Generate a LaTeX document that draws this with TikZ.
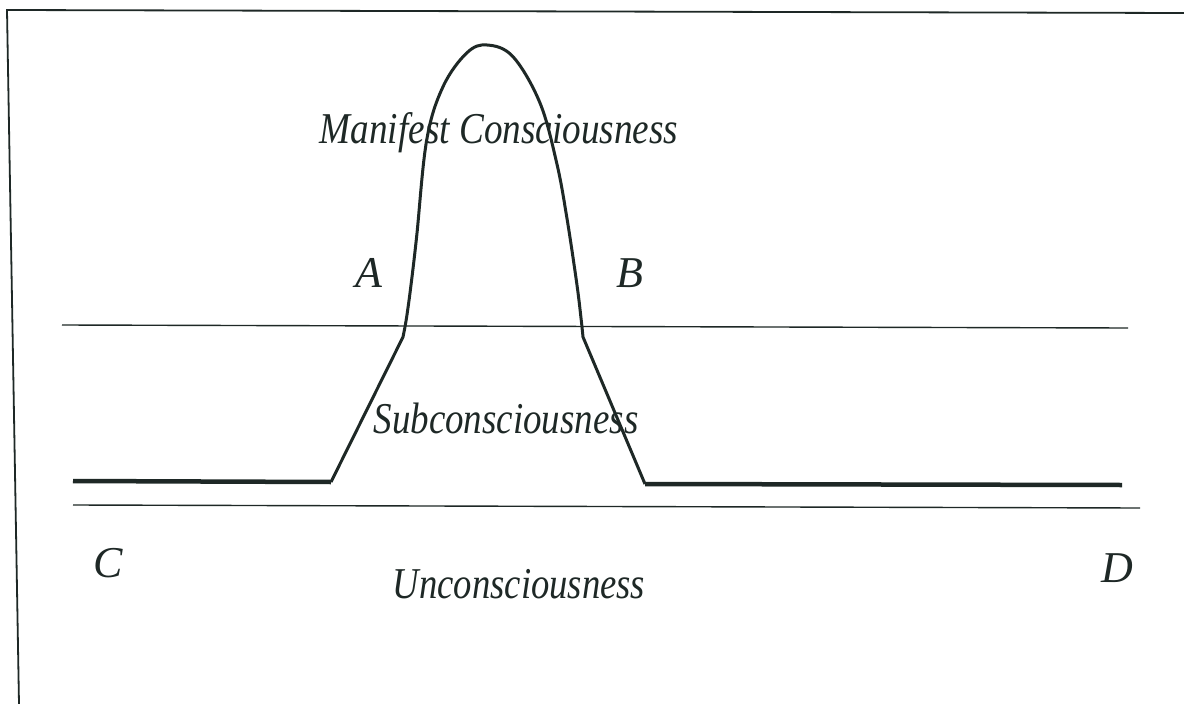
\documentclass[tikz,border=0pt]{standalone}
\usepackage{fontspec}
\setmainfont{Liberation Serif}
\definecolor{ink}{HTML}{1E2826}
\tikzset{
  frameline/.style={draw=ink, line width=1.8pt},
  thinline/.style={draw=ink, line width=1.4pt},
  levelline/.style={draw=ink, line width=4.5pt},
  curveline/.style={draw=ink, line width=3pt, line join=round},
  lbl/.style={inner sep=0pt, anchor=base, text=ink, font=\fontsize{44}{44}\selectfont\itshape},
}
\begin{document}
\begin{tikzpicture}[x=1pt,y=-1pt]
\useasboundingbox (0,0) rectangle (1184,704);
\fill[white] (0,0) rectangle (1184,704);
% frame (top and left)
\coordinate (fbl) at (19,704);
\coordinate (ftl) at (7,10);
\coordinate (ftr) at (1184,13);
\draw[frameline] (fbl) -- (ftl) -- (ftr);
% thin level lines
\coordinate (l1a) at (62,325);
\coordinate (l1b) at (1128,328);
\coordinate (l2a) at (73,505);
\coordinate (l2b) at (1140,508);
\draw[thinline] (l1a) -- (l1b);
\draw[thinline] (l2a) -- (l2b);
% thick baseline
\coordinate (c0) at (73,481);
\coordinate (c1) at (331,482);
\coordinate (c2) at (403,337);
\coordinate (c3) at (583,337);
\coordinate (c4) at (645,484);
\coordinate (c5) at (1122,485);
\draw[levelline] (c0) -- (c1);
\draw[levelline] (c4) -- (c5);
% curve
\draw[curveline] (c1) -- (c2) -- plot[smooth, tension=0.6] coordinates {
  (403,337) (406.5,318) (411,285) (416.7,236) (426.7,140) (443,86.7) (466.7,53)
  (487,45) (513,56.7) (540,103) (556.7,163) (566.7,216.7) (576.7,283) (581,318) (583,337)}
  -- (c3) -- (c4);
% labels
\node[lbl] (manifest) at (499,143) {\scalebox{0.845}[1]{Manifest Consciousness}};
\node[lbl] (A) at (369,287) {A};
\node[lbl] (B) at (630,287) {B};
\node[lbl] (sub) at (506,433) {\scalebox{0.84}[1]{Subconsciousness}};
\node[lbl] (C) at (108,577) {C};
\node[lbl] (D) at (1117,582) {D};
\node[lbl] (uncon) at (519,598) {\scalebox{0.833}[1]{Unconsciousness}};
\end{tikzpicture}
\end{document}
